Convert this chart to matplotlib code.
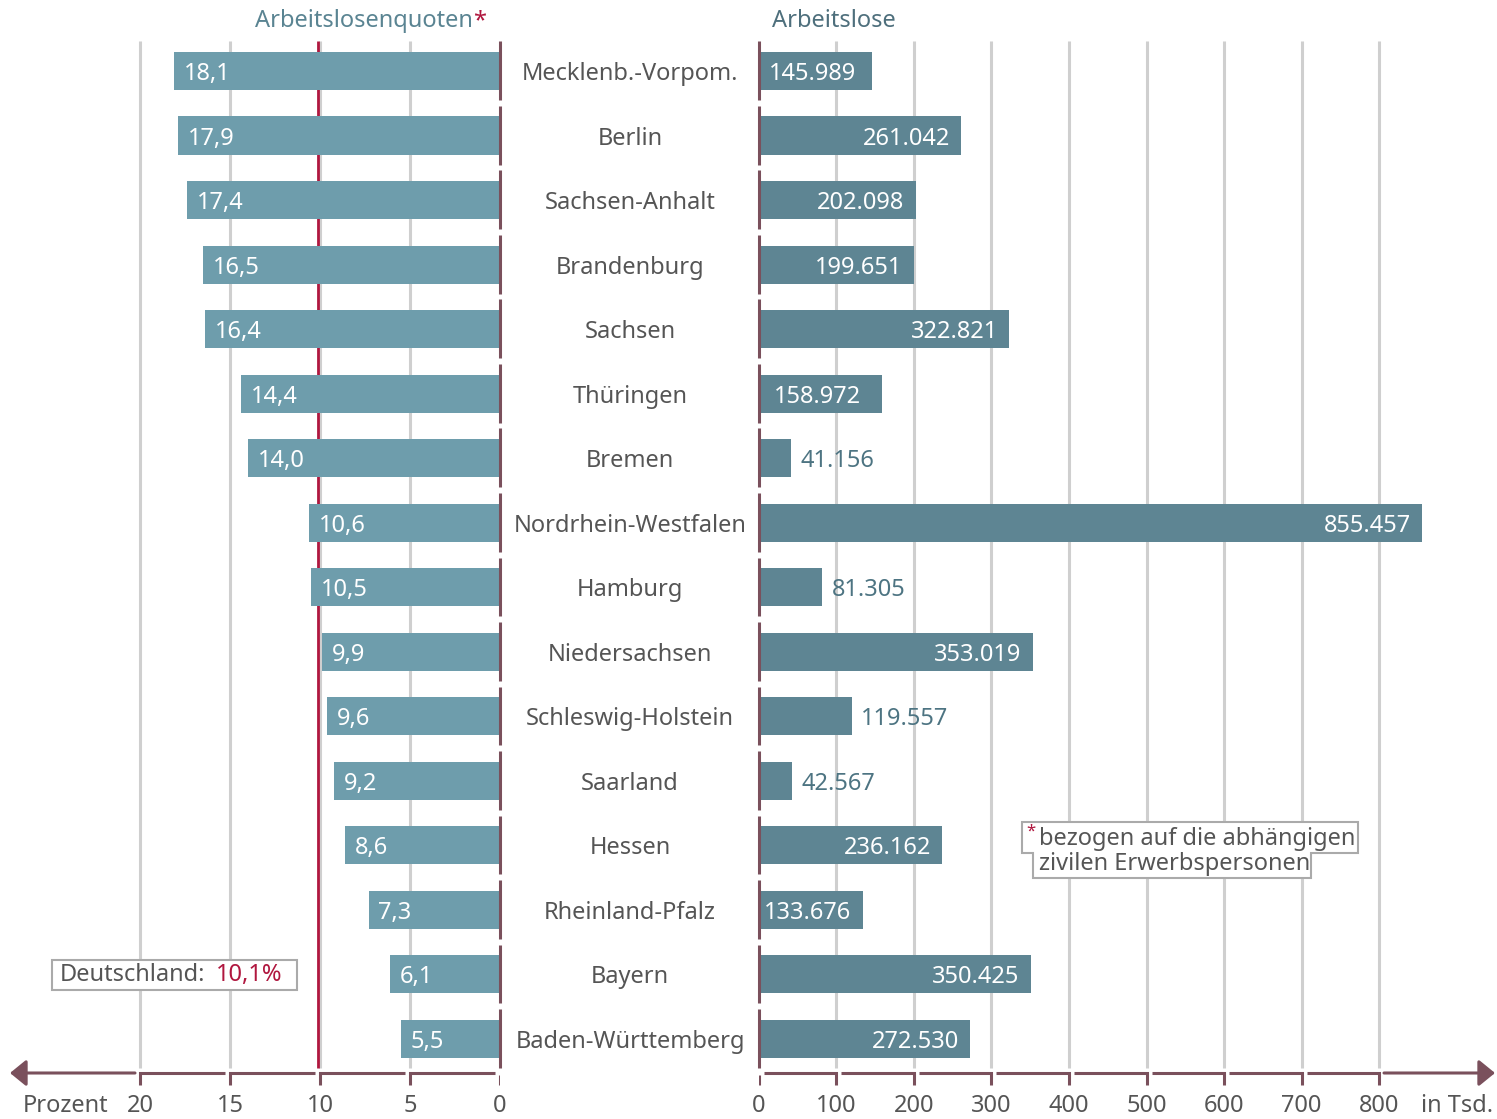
import numpy as np
import matplotlib
matplotlib.use("Agg")
import matplotlib.pyplot as plt
from matplotlib.patches import Polygon, Rectangle
from matplotlib import transforms

plt.rcParams['font.family'] = ['Noto Sans', 'DejaVu Sans']

# data
states = ["Mecklenb.-Vorpom.", "Berlin", "Sachsen-Anhalt", "Brandenburg", "Sachsen",
          "Thüringen", "Bremen", "Nordrhein-Westfalen", "Hamburg", "Niedersachsen",
          "Schleswig-Holstein", "Saarland", "Hessen", "Rheinland-Pfalz", "Bayern",
          "Baden-Württemberg"]
quote = [18.1, 17.9, 17.4, 16.5, 16.4, 14.4, 14.0, 10.6, 10.5, 9.9, 9.6, 9.2, 8.6, 7.3, 6.1, 5.5]
arbeitslose = [145989, 261042, 202098, 199651, 322821, 158972, 41156, 855457, 81305,
               353019, 119557, 42567, 236162, 133676, 350425, 272530]
deutschland = 10.1
ticks_left = [0, 5, 10, 15, 20]
ticks_right = [0, 100, 200, 300, 400, 500, 600, 700, 800]

W, H = 1497, 1119
c_left = '#6e9dac'
c_right = '#5e8593'
c_grid = '#cfcfcf'
c_red = '#b0173f'
c_axis = '#7a505c'
c_text = '#555555'
c_out = '#4d7482'
fs = 17

fig = plt.figure(figsize=(W / 100, H / 100), dpi=100)
axL = fig.add_axes([0, 0, 500 / W, 1])
axR = fig.add_axes([759 / W, 0, 738 / W, 1])
y0, y1 = -71 / 64.53, (H - 71) / 64.53
axL.set_xlim(500 / 18, 0)
axR.set_xlim(0, 738 / 0.775)
for ax in (axL, axR):
    ax.set_ylim(y1, y0)
    ax.axis('off')
    ax.patch.set_alpha(0)

rows = np.arange(len(states))
r_top, r_bot = (41 - 71) / 64.53, (1068 - 71) / 64.53
r_axis = (1073 - 71) / 64.53
r_tick = (1085 - 71) / 64.53
r_lab = (1106 - 71) / 64.53

# gridlines
axL.vlines(ticks_left[1:], r_top, r_bot, color=c_grid, lw=2.2, zorder=0)
axR.vlines(ticks_right[1:], r_top, r_bot, color=c_grid, lw=2.2, zorder=0)

# bars
axL.barh(rows, quote, height=0.59, color=c_left, zorder=2)
axR.barh(rows, np.array(arbeitslose) / 1000, height=0.59, color=c_right, zorder=2)

# Germany average
axL.vlines(deutschland, r_top, r_bot, color=c_red, lw=2.0, zorder=1)

# segmented dividers
for ax in (axL, axR):
    ax.vlines(np.zeros(len(rows)), rows - 0.46, rows + 0.45, color=c_axis, lw=2.2,
              zorder=3, clip_on=False)

# value labels
for i, v in enumerate(quote):
    axL.annotate(f"{v:.1f}".replace('.', ','), (v, i), xytext=(7, 0),
                 textcoords='offset points', ha='left', va='center_baseline',
                 color='white', fontsize=fs, zorder=4)
for i, v in enumerate(arbeitslose):
    s = f"{v:,}".replace(',', '.')
    x = v / 1000
    if v > 180000:
        axR.annotate(s, (x, i), xytext=(-8, 0), textcoords='offset points',
                     ha='right', va='center_baseline', color='white', fontsize=fs, zorder=4)
    elif v > 130000:
        axR.annotate(s, (x / 2, i), xytext=(-2, 0), textcoords='offset points',
                     ha='center', va='center_baseline', color='white', fontsize=fs, zorder=4)
    else:
        axR.annotate(s, (x, i), xytext=(7, 0), textcoords='offset points',
                     ha='left', va='center_baseline', color=c_out, fontsize=fs, zorder=4)

# state names
tr = transforms.blended_transform_factory(fig.transFigure, axL.transData)
for i, s in enumerate(states):
    axL.text(630 / W, i, s, transform=tr, ha='center', va='center_baseline',
             color=c_text, fontsize=fs)

# bottom axes with bracket ticks
arrow = dict(arrowstyle='-|>,head_length=0.38,head_width=0.31', mutation_scale=26,
             color=c_axis, lw=2.2, shrinkA=0, shrinkB=0)
g = 5 / 18
for a, b in zip(ticks_left[:-1], ticks_left[1:]):
    axL.plot([a + g, b, b], [r_axis, r_axis, r_tick], color=c_axis, lw=2.2,
             solid_capstyle='butt', solid_joinstyle='miter')
axL.plot([0, 0], [(1075 - 71) / 64.53, r_tick], color=c_axis, lw=2.2, solid_capstyle='butt')
axL.annotate('', xy=((500 - 10) / 18, r_axis), xytext=(20 + g, r_axis),
             arrowprops=arrow, annotation_clip=False)
g2 = 5 / 0.775
for a, b in zip(ticks_right[:-1], ticks_right[1:]):
    axR.plot([a + g2, b, b], [r_axis, r_axis, r_tick], color=c_axis, lw=2.2,
             solid_capstyle='butt', solid_joinstyle='miter')
axR.plot([0, 0], [(1075 - 71) / 64.53, r_tick], color=c_axis, lw=2.2, solid_capstyle='butt')
axR.annotate('', xy=((1495 - 759) / 0.775, r_axis), xytext=(800 + g2, r_axis),
             arrowprops=arrow, annotation_clip=False)

for t in ticks_left:
    axL.text(t, r_lab, str(t), ha='center', va='center', color=c_text, fontsize=fs)
axL.text((500 - 66) / 18, r_lab, 'Prozent', ha='center', va='center', color=c_text, fontsize=fs)
for t in ticks_right:
    axR.text(t, r_lab, str(t), ha='center', va='center', color=c_text, fontsize=fs)
axR.text((1457 - 759) / 0.775, r_lab, 'in Tsd.', ha='center', va='center', color=c_text, fontsize=fs)


def px(x, y):
    return (x / W, 1 - y / H)


# headers
fig.text(*px(473, 21), 'Arbeitslosenquoten', ha='right', va='center', color='#5a8492', fontsize=fs)
fig.text(*px(473, 21), '*', ha='left', va='center', color=c_red, fontsize=fs)
fig.text(*px(834, 21), 'Arbeitslose', ha='center', va='center', color='#4e6f7c', fontsize=fs)

# Germany box
fig.add_artist(Rectangle(px(52, 990), 245 / W, 30 / H, transform=fig.transFigure,
                         facecolor='white', edgecolor='#aaaaaa', lw=1.5, zorder=5))
fig.text(*px(60, 975), 'Deutschland:', ha='left', va='center', color=c_text, fontsize=fs, zorder=6)
fig.text(*px(216, 975), '10,1%', ha='left', va='center', color=c_red, fontsize=fs, zorder=6)

# footnote box
pts = [px(1022, 822), px(1358, 822), px(1358, 853), px(1311, 853), px(1311, 878),
       px(1033, 878), px(1033, 853), px(1022, 853)]
fig.add_artist(Polygon(pts, closed=True, transform=fig.transFigure, facecolor='white',
                       edgecolor='#aaaaaa', lw=1.5, zorder=5))
fig.text(*px(1026, 832), '*', ha='left', va='center', color=c_red, fontsize=12, zorder=6)
fig.text(*px(1039, 839), 'bezogen auf die abhängigen', ha='left', va='center',
         color=c_text, fontsize=fs, zorder=6)
fig.text(*px(1039, 864), 'zivilen Erwerbspersonen', ha='left', va='center',
         color=c_text, fontsize=fs, zorder=6)

fig.savefig('out.png', dpi=100, facecolor='white')
